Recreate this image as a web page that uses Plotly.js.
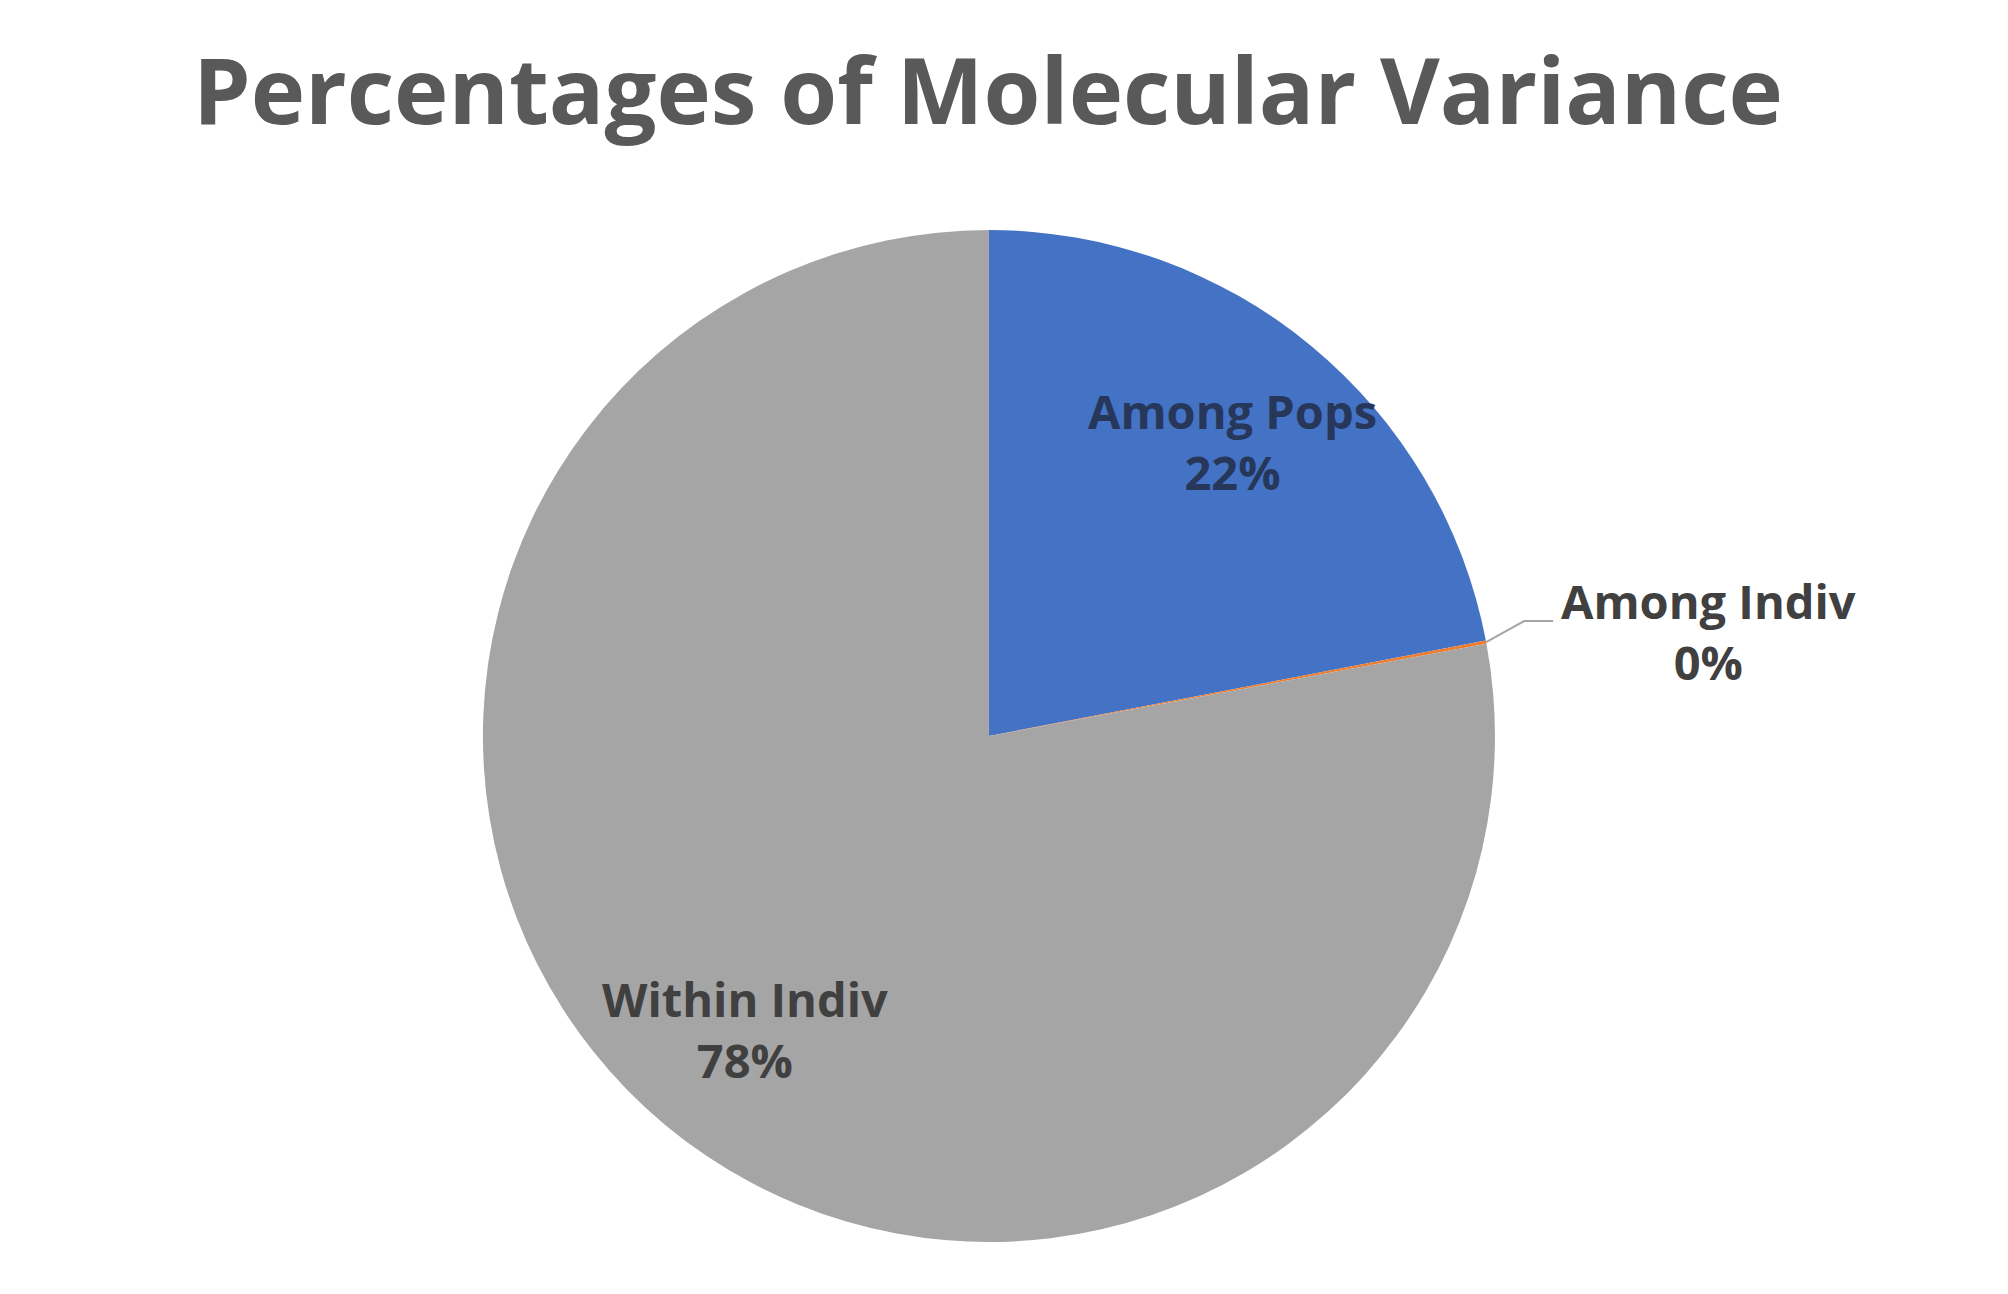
<!DOCTYPE html>
<html>
<head>
<meta charset="utf-8">
<script src="https://cdn.plot.ly/plotly-3.0.1.min.js"></script>
<style>html,body{margin:0;padding:0;background:#fff;}#chart{width:2008px;height:1294px;}</style>
</head>
<body>
<div id="chart"></div>
<script>
const chartTitle = "Percentages of Molecular Variance";
const categories = ["Among Pops", "Among Indiv", "Within Indiv"];
const values = [22, 0.1, 78];
const sliceColors = ["#4472C4", "#ED7D31", "#A5A5A5"];
const textColors = ["#26375A", "#404040", "#404040"];

const W = 2008, H = 1294;
const domainX = [0.2405, 0.7445];
const domainY = [0.0394, 0.823];
const FONT = "'Open Sans', sans-serif";
const LABEL_SIZE = 47;

const trace = {
  type: "pie",
  labels: categories,
  values: values,
  sort: false,
  direction: "clockwise",
  rotation: 0,
  marker: {colors: sliceColors, line: {width: 0}},
  textinfo: "none",
  hoverinfo: "label+percent",
  showlegend: false,
  domain: {x: domainX, y: domainY}
};

// geometry derived from the pie domain
const cx = (domainX[0] + domainX[1]) / 2 * W;
const cy = (1 - (domainY[0] + domainY[1]) / 2) * H;
const R = Math.min((domainX[1] - domainX[0]) * W, (domainY[1] - domainY[0]) * H) / 2;
const total = values.reduce((a, b) => a + b, 0);

const annotations = [];
const shapes = [];
let cum = 0;
values.forEach((v, i) => {
  const frac = v / total;
  const midAng = (cum + frac / 2) * 2 * Math.PI;
  cum += frac;
  const pct = Math.round(frac * 100) + "%";
  const txt = "<b>" + categories[i] + "</b><br><b>" + pct + "</b>";
  if (frac > 0.05) {
    const rr = 0.755 * R;
    const px = cx + rr * Math.sin(midAng);
    const py = cy - rr * Math.cos(midAng);
    annotations.push({
      x: px / W, y: 1 - py / H, xref: "paper", yref: "paper",
      text: txt, showarrow: false, xanchor: "center", yanchor: "middle",
      font: {family: FONT, size: LABEL_SIZE, color: textColors[i]}
    });
  } else {
    // small slice: outside label with leader line
    const ex = cx + R * Math.sin(midAng);
    const ey = cy - R * Math.cos(midAng);
    const bx = ex + 38, by = ey - 21;
    const hx = bx + 29;
    shapes.push({
      type: "path", xref: "paper", yref: "paper",
      path: "M " + (ex / W) + " " + (1 - ey / H) + " L " + (bx / W) + " " + (1 - by / H) + " L " + (hx / W) + " " + (1 - by / H),
      line: {color: "#A5A5A5", width: 2}
    });
    annotations.push({
      x: (hx + 6) / W, y: 1 - (by + 10) / H, xref: "paper", yref: "paper",
      text: txt, showarrow: false, xanchor: "left", yanchor: "middle", align: "center",
      font: {family: FONT, size: LABEL_SIZE, color: textColors[i]}
    });
  }
});

const layout = {
  width: W,
  height: H,
  margin: {l: 0, r: 0, t: 0, b: 0},
  paper_bgcolor: "#ffffff",
  title: {
    text: "<b>" + chartTitle + "</b>",
    font: {family: FONT, size: 92, color: "#595959"},
    x: 0.492, xanchor: "center",
    y: 0.929, yanchor: "middle"
  },
  annotations: annotations,
  shapes: shapes,
  showlegend: false
};

Plotly.newPlot("chart", [trace], layout, {displayModeBar: false});
</script>
</body>
</html>
